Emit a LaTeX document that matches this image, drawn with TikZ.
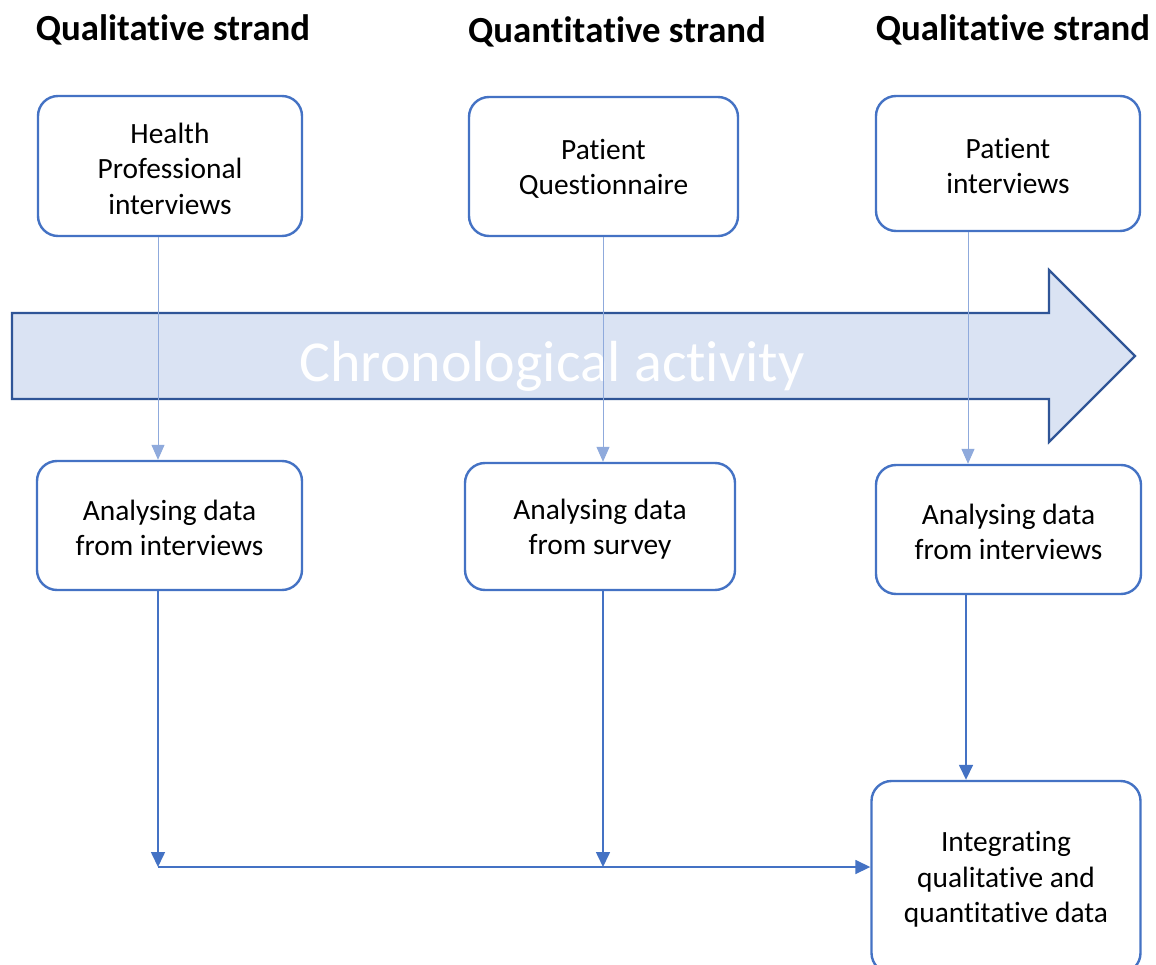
\documentclass[tikz,border=0pt]{standalone}
\usepackage{fontspec}
\setmainfont{Carlito}[RawFeature={-liga;-clig;-dlig;-calt}]
\usetikzlibrary{arrows.meta}
\definecolor{boxblue}{HTML}{4472C4}
\definecolor{arrfill}{HTML}{DAE3F3}
\definecolor{arrdraw}{HTML}{2F5597}
\definecolor{lightarr}{HTML}{8FAADC}
\newcommand\nlg{\kern0pt}
\tikzset{
  stagebox/.style={draw=boxblue, line width=2.4pt, rounded corners=20pt, fill=white, inner sep=0pt},
  stagetext/.style={align=center, font=\fontsize{29.4}{35.5}\selectfont, inner sep=0pt, yshift=-2.5pt},
  title/.style={font=\fontsize{36.8}{44}\selectfont\bfseries, anchor=center},
  lightline/.style={draw=lightarr, line width=1pt, -{Triangle[length=15pt,width=13pt]}},
  darkline/.style={draw=boxblue, line width=1.6pt, -{Triangle[length=15pt,width=14pt]}}
}
\begin{document}
\begin{tikzpicture}[x=1pt,y=-1pt]
\clip (0,0) rectangle (1156,965);
\fill[white] (0,0) rectangle (1156,965);
% titles
\node[title] (t1) at (173,30) {Qualitat\nlg ive strand};
\node[title] (t2) at (617,32) {Quant\nlg it\nlg at\nlg ive strand};
\node[title] (t3) at (1013,30) {Qualitat\nlg ive strand};
% big chronological arrow
\draw[fill=arrfill, draw=arrdraw, line width=2.2pt, line join=miter]
  (12,313) -- (1049,313) -- (1049,270) -- (1135,356) -- (1049,442) -- (1049,399) -- (12,399) -- cycle;
\node[text=white, font=\fontsize{58}{70}\selectfont] (chron) at (552,366) {Chronological activity};
% boxes
\node[stagebox, minimum width=264pt, minimum height=140pt,
  label={[stagetext]center:{Health\\Professional\\interviews}}] (hp) at (170,166) {};
\node[stagebox, minimum width=269pt, minimum height=139pt,
  label={[stagetext]center:{Patient\\Questionnaire}}] (pq) at (603.5,166.5) {};
\node[stagebox, minimum width=264pt, minimum height=135pt,
  label={[stagetext]center:{Patient\\interviews}}] (pi) at (1008,163.5) {};
\node[stagebox, minimum width=265pt, minimum height=129pt,
  label={[stagetext]center:{Analysing data\\from interviews}}] (a1) at (169.5,525.5) {};
\node[stagebox, minimum width=270pt, minimum height=127pt,
  label={[stagetext]center:{Analysing data\\from survey}}] (a2) at (600,526.5) {};
\node[stagebox, minimum width=265pt, minimum height=129pt,
  label={[stagetext]center:{Analysing data\\from interviews}}] (a3) at (1008.5,529.5) {};
\node[stagebox, minimum width=269pt, minimum height=192pt,
  label={[stagetext]center:{Integrating\\qualitat\nlg ive and\\quant\nlg it\nlg at\nlg ive data}}] (ig) at (1006,877) {};
% light arrows
\draw[lightline] (hp.south -| 158,0) -- (a1.north -| 158,0);
\draw[lightline] (pq.south -| 603,0) -- (a2.north -| 603,0);
\draw[lightline] (pi.south -| 968,0) -- (a3.north -| 968,0);
% dark arrows
\coordinate (j1) at (158,867);
\coordinate (j2) at (603,867);
\draw[darkline] (a1.south -| j1) -- (j1);
\draw[darkline] (a2.south -| j2) -- (j2);
\draw[darkline] (a3.south -| 966,0) -- (ig.north -| 966,0);
\draw[darkline] (j1) -- (j1 -| ig.west);
\end{tikzpicture}
\end{document}
